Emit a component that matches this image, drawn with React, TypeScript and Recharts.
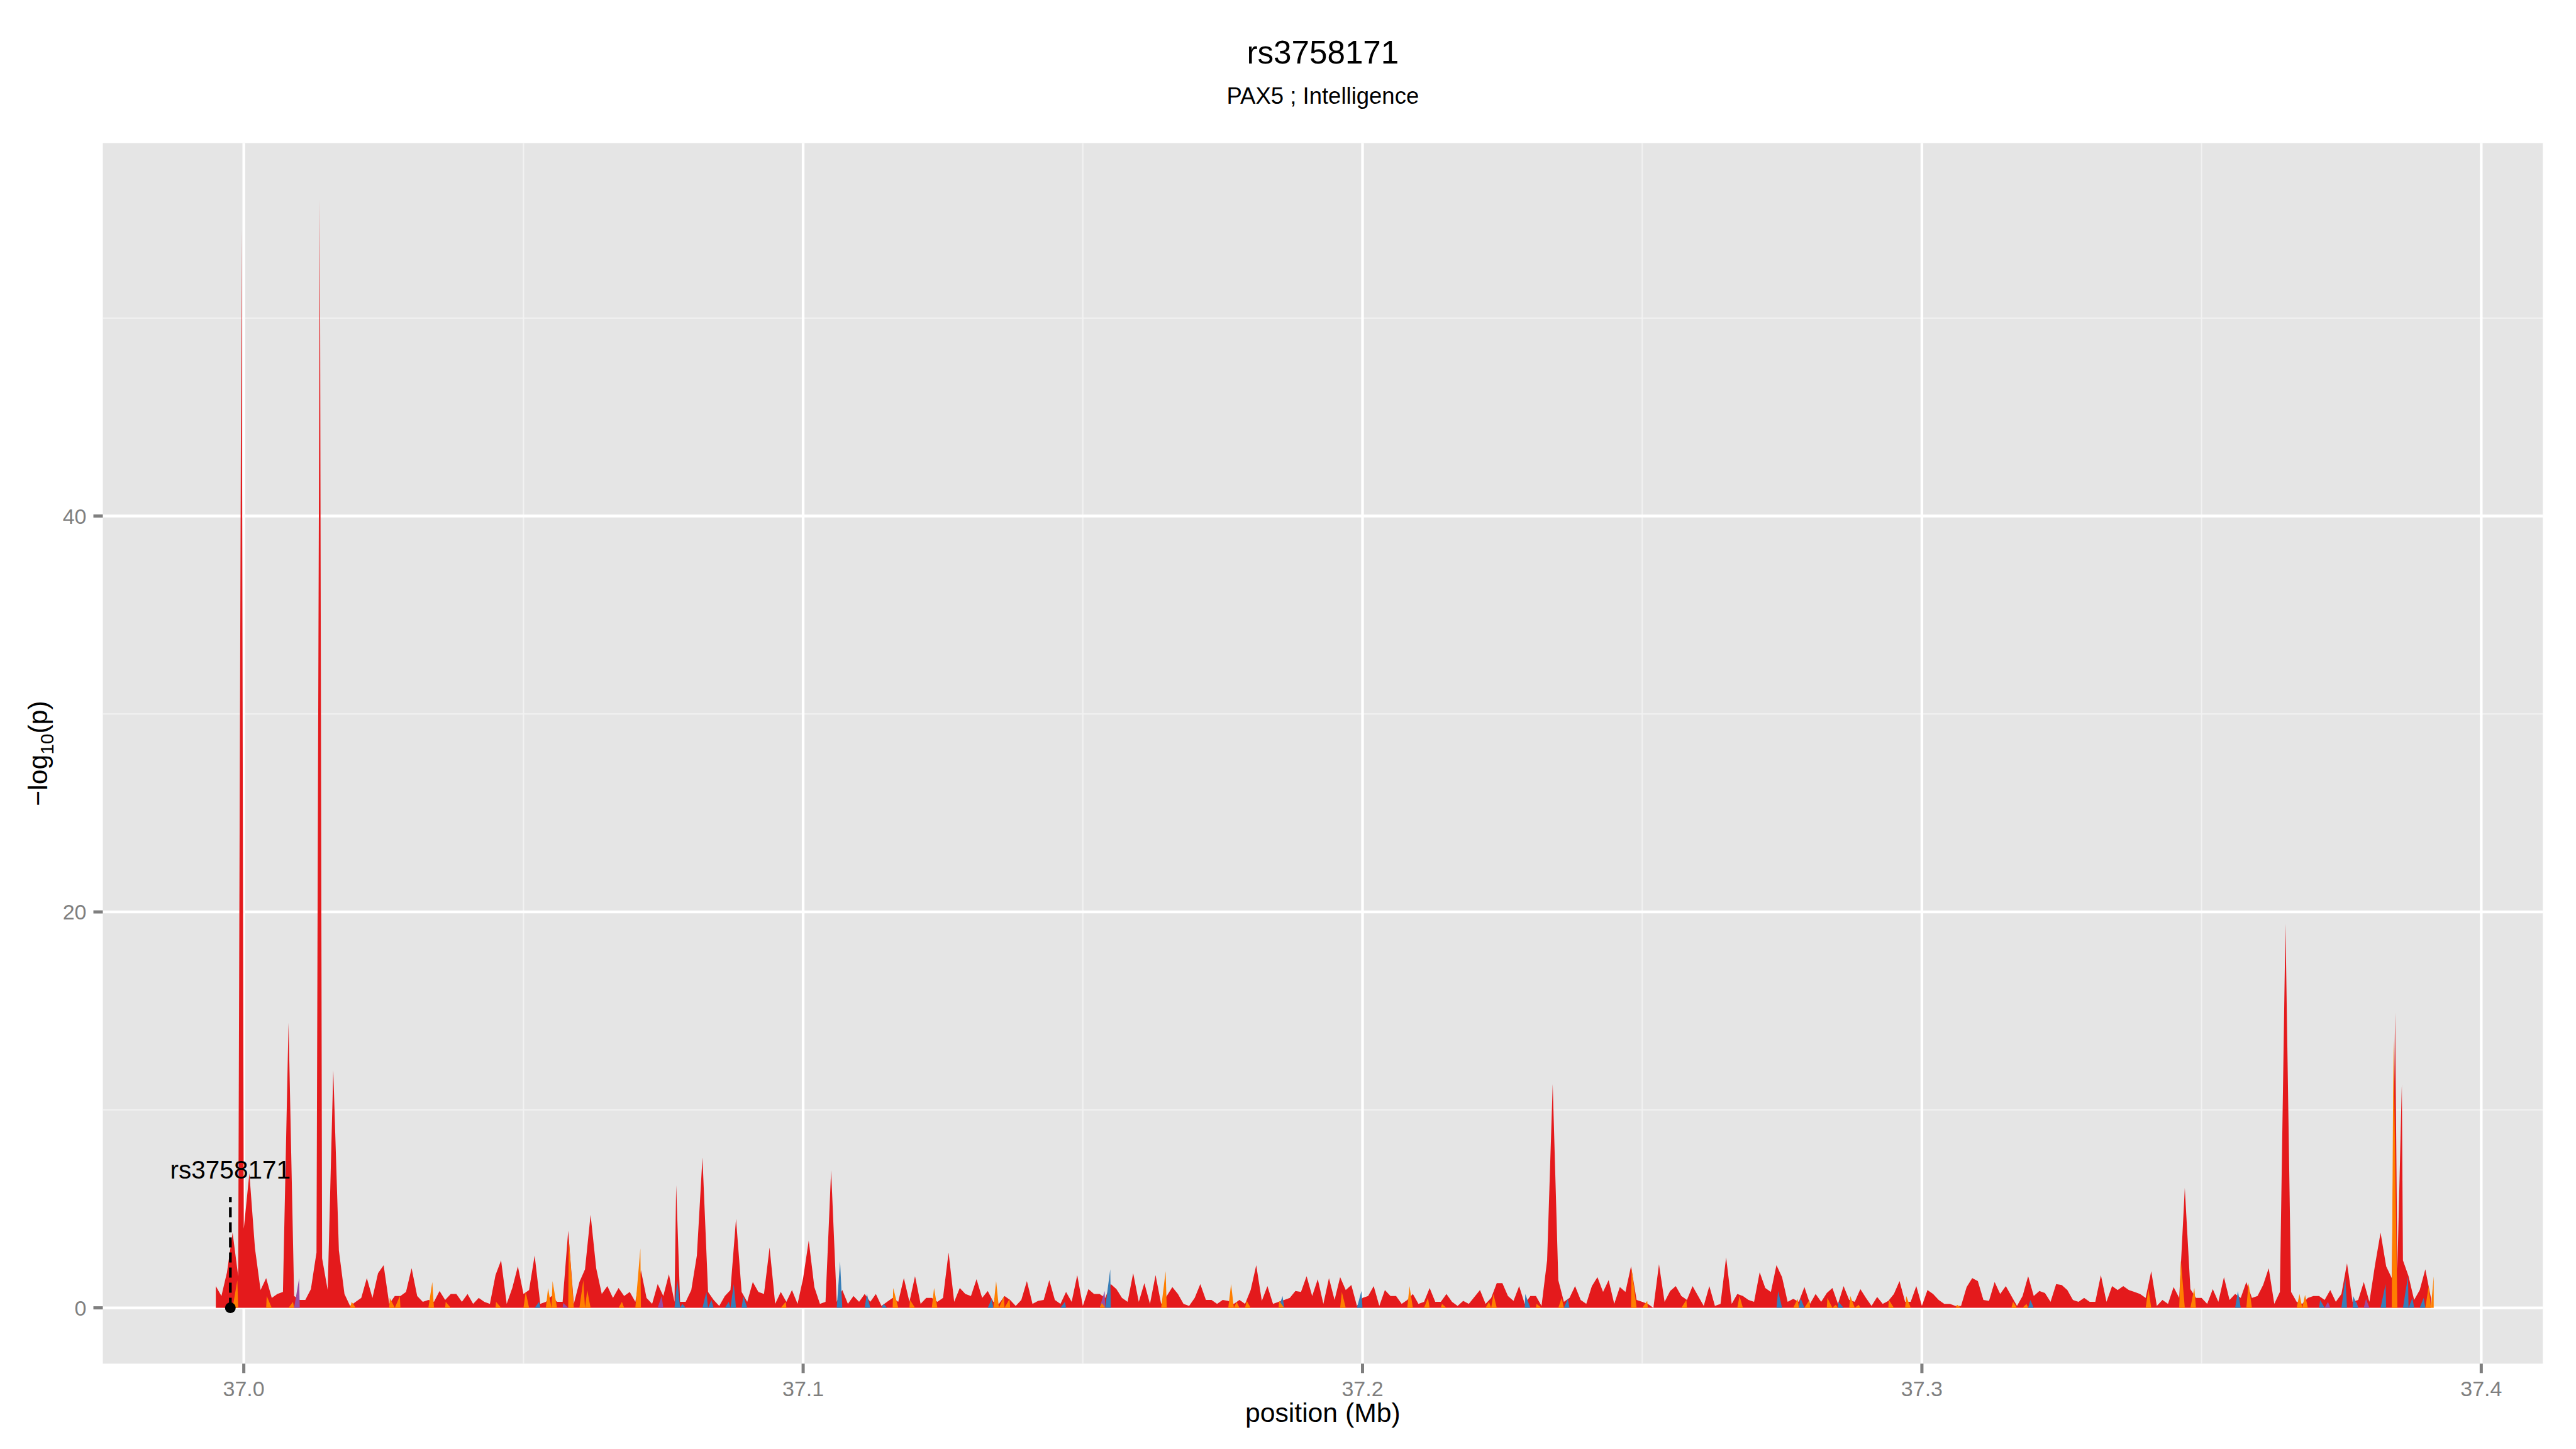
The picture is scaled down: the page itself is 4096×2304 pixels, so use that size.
import {
  AreaChart,
  Area,
  XAxis,
  YAxis,
  CartesianGrid,
  ReferenceLine,
  ReferenceDot,
} from "recharts";

const FONT = "'Liberation Sans', Arial, Helvetica, sans-serif";

// -log10(p) on a 1 kb grid starting at 36.995 Mb
const startMb = 36.995;
const stepMb = 0.001;
const redBase = [
  1.1, 0.6, 1.8, 3.8, 1.6, 4.0, 6.8, 3.0, 0.9, 1.5,
  0.5, 0.7, 0.8, 14.4, 0.6, 0.4, 0.4, 0.95, 2.8, 2.5,
  0.9, 12.0, 2.9, 0.7, 0.1, 0.3, 0.5, 1.5, 0.5, 1.75,
  2.15, 0.2, 0.6, 0.6, 0.8, 2.0, 0.6, 0.3, 0.4, 0.3,
  0.85, 0.4, 0.7, 0.7, 0.3, 0.7, 0.2, 0.5, 0.3, 0.2,
  1.65, 2.4, 0.2, 1.0, 2.1, 0.7, 0.9, 2.65, 0.2, 0.3,
  0.6, 0.3, 0.3, 3.9, 0.2, 1.3, 1.95, 4.7, 2.0, 0.7,
  1.1, 0.5, 1.0, 0.6, 0.8, 0.3, 1.9, 0.5, 0.2, 1.2,
  0.6, 1.7, 0.3, 0.3, 0.3, 0.9, 2.65, 7.6, 0.8, 0.4,
  0.1, 0.6, 0.9, 4.5, 0.8, 0.3, 1.3, 0.8, 0.7, 3.05,
  0.2, 0.8, 0.3, 0.9, 0.2, 1.5, 3.4, 1.05, 0.2, 0.3,
  6.95, 0.3, 0.9, 0.2, 0.6, 0.3, 0.7, 0.3, 0.7, 0.1,
  0.3, 0.5, 0.3, 1.5, 0.3, 1.6, 0.2, 0.5, 0.5, 0.3,
  0.5, 2.8, 0.3, 1.0, 0.7, 0.6, 1.45, 0.5, 0.85, 0.3,
  0.2, 0.6, 0.4, 0.1, 0.4, 1.35, 0.2, 0.35, 0.4, 1.4,
  0.4, 0.2, 0.8, 0.3, 1.65, 0.1, 0.95, 0.7, 0.7, 0.5,
  1.2, 0.95, 0.5, 0.3, 1.75, 0.3, 1.25, 0.2, 1.65, 0.2,
  0.6, 1.05, 0.7, 0.2, 0.1, 0.5, 1.2, 0.4, 0.4, 0.2,
  0.4, 0.35, 0.2, 0.4, 0.2, 0.9, 2.15, 0.35, 1.1, 0.2,
  0.3, 0.4, 0.5, 0.85, 0.8, 1.6, 0.6, 1.45, 0.2, 1.5,
  0.4, 1.55, 0.9, 1.15, 0.1, 0.5, 0.6, 1.1, 0.1, 0.9,
  0.6, 0.6, 0.2, 0.4, 0.7, 0.2, 0.3, 1.0, 0.3, 0.3,
  0.7, 0.3, 0.1, 0.35, 0.2, 0.55, 0.9, 0.2, 0.5, 1.25,
  1.25, 0.6, 0.35, 1.1, 0.2, 0.6, 0.6, 0.1, 2.4, 11.3,
  1.4, 0.3, 0.5, 1.1, 0.4, 0.2, 1.1, 1.55, 0.8, 1.4,
  0.2, 1.05, 0.8, 2.1, 0.4, 0.3, 0.2, 0.0, 2.2, 0.3,
  0.85, 1.1, 0.6, 0.4, 1.1, 0.6, 0.1, 1.1, 0.1, 0.2,
  2.55, 0.2, 0.7, 0.6, 0.4, 0.3, 1.8, 1.0, 0.8, 2.15,
  1.55, 0.3, 0.45, 0.3, 1.05, 0.2, 0.7, 0.3, 0.75, 1.0,
  0.2, 1.1, 0.4, 0.3, 0.95, 0.5, 0.1, 0.55, 0.2, 0.35,
  0.7, 1.35, 0.3, 0.3, 1.1, 0.1, 0.9, 0.7, 0.4, 0.2,
  0.2, 0.1, 0.1, 1.05, 1.5, 1.35, 0.4, 0.35, 1.3, 0.7,
  1.1, 0.6, 0.1, 0.6, 1.6, 0.6, 0.85, 0.75, 0.3, 1.2,
  1.15, 0.9, 0.4, 0.3, 0.5, 0.3, 0.3, 1.65, 0.3, 1.1,
  0.9, 1.1, 0.9, 0.8, 0.7, 0.5, 1.85, 0.1, 0.4, 0.2,
  1.05, 0.5, 6.05, 0.95, 0.5, 0.5, 0.2, 0.95, 0.3, 1.55,
  0.4, 0.7, 0.5, 1.3, 0.5, 0.6, 1.15, 2.0, 0.2, 0.8,
  19.4, 0.8, 0.3, 0.2, 0.5, 0.6, 0.6, 0.4, 0.9, 0.3,
  0.7, 2.25, 0.3, 0.4, 1.3, 0.3, 2.15, 3.8, 2.1, 1.5,
  1.9, 2.4, 1.6, 0.4, 0.9, 1.95, 0.5,
];

// the sharpest red peaks, at their own positions
const redPeakPos = [36.9996, 37.0136, 37.0773, 37.3846, 37.3858];
const redPeakVal = [54.5, 56.0, 6.2, 14.9, 11.3];

const orangePos = [
  36.99885, 37.0041, 37.0088, 37.0193, 37.0261, 37.0279, 37.0337, 37.0361, 37.0451, 37.0504,
  37.0544, 37.0552, 37.0581, 37.0607, 37.0614, 37.0676, 37.0709, 37.0969, 37.1161, 37.1191,
  37.1234, 37.1345, 37.1359, 37.1369, 37.1534, 37.1648, 37.1765, 37.1775, 37.1793, 37.1851,
  37.1963, 37.2084, 37.2117, 37.2142, 37.2226, 37.2234, 37.2311, 37.2356, 37.2481, 37.2509,
  37.2579, 37.2674, 37.2778, 37.2799, 37.2831, 37.2846, 37.2872, 37.2887, 37.2941, 37.2972,
  37.3063, 37.3163, 37.3187, 37.3405, 37.3463, 37.3487, 37.3584, 37.3675, 37.3685, 37.3843,
  37.3906, 37.3915,
];
const orangeVal = [
  1.4, 0.6, 0.3, 0.3, 0.5, 0.6, 1.3, 0.3, 0.3, 0.8,
  1.0, 1.35, 3.5, 1.4, 0.9, 0.3, 3.0, 0.3, 1.0, 0.4,
  1.0, 1.35, 0.6, 0.45, 0.25, 1.85, 1.2, 0.3, 0.35, 0.35,
  0.8, 1.1, 0.5, 0.2, 0.3, 0.7, 0.2, 0.5, 2.0, 0.35,
  0.4, 0.6, 0.45, 0.4, 0.5, 0.15, 0.6, 0.15, 0.4, 0.6,
  0.15, 0.3, 0.2, 0.95, 2.4, 1.0, 1.25, 0.7, 0.65, 13.5,
  1.1, 1.6,
];

const bluePos = [
  37.0528, 37.0775, 37.0784, 37.0827, 37.0836, 37.0867, 37.0876, 37.0893, 37.1066, 37.1114,
  37.1144, 37.1337, 37.1468, 37.1549, 37.1857, 37.1998, 37.2291, 37.2367, 37.2743, 37.2783,
  37.2851, 37.3194, 37.3565, 37.3712, 37.3757, 37.3771, 37.3829, 37.3869, 37.3877, 37.3897,
];
const blueVal = [
  0.3, 1.4, 0.2, 0.8, 0.4, 0.3, 1.2, 0.6, 2.35, 0.7,
  0.2, 0.45, 0.3, 1.95, 0.6, 0.85, 0.7, 0.45, 0.85, 0.5,
  0.3, 0.4, 0.85, 0.4, 1.5, 0.6, 1.2, 1.6, 0.5, 0.5,
];

const purplePos = [37.0099, 37.0571, 37.0747, 37.1539, 37.3726, 37.3777, 37.3794];
const purpleVal = [1.5, 0.25, 0.6, 0.85, 0.3, 0.3, 0.45];

const xTicks = [37.0, 37.1, 37.2, 37.3, 37.4];
const xMinor = [37.05, 37.15, 37.25, 37.35];
const yTicks = [0, 20, 40];
const yMinor = [10, 30, 50];

const leadSnp = "rs3758171";
const leadPos = 36.9976;
const leadLineTop = 5.6;
const leadLabelY = 7.0;

type Row = {
  pos: number;
  red: number | null;
  orange: number | null;
  blue: number | null;
  purple: number | null;
};

function buildRows(): Row[] {
  const rows: Row[] = redBase.map((v, i) => ({
    pos: +(startMb + i * stepMb).toFixed(4),
    red: v,
    orange: 0,
    blue: 0,
    purple: 0,
  }));
  const empty = { red: null, orange: null, blue: null, purple: null };
  redPeakPos.forEach((p, i) => rows.push({ ...empty, pos: p, red: redPeakVal[i] }));
  orangePos.forEach((p, i) => rows.push({ ...empty, pos: p, orange: orangeVal[i] }));
  bluePos.forEach((p, i) => rows.push({ ...empty, pos: p, blue: blueVal[i] }));
  purplePos.forEach((p, i) => rows.push({ ...empty, pos: p, purple: purpleVal[i] }));
  return rows.sort((a, b) => a.pos - b.pos);
}

const data = buildRows();

const tickStyle = { fill: "#7f7f7f", fontSize: 34, fontFamily: FONT };
const tickLineStyle = { stroke: "#7f7f7f", strokeWidth: 5 };

const series = [
  { key: "red", color: "#E41A1C" },
  { key: "purple", color: "#984EA3" },
  { key: "blue", color: "#377EB8" },
  { key: "orange", color: "#FF7F00" },
];

export default function App() {
  const cx = (163.5 + 4043.2) / 2;
  return (
    <div style={{ position: "absolute", left: 0, top: 0, width: 4096, height: 2304, background: "#fff" }}>
      <AreaChart
        width={4096}
        height={2304}
        data={data}
        margin={{ top: 227.5, right: 52.8, bottom: 0, left: 0 }}
      >
        <CartesianGrid
          fill="#E5E5E5"
          stroke="#F2F2F2"
          strokeWidth={2.1}
          horizontalValues={yMinor}
          verticalValues={xMinor}
        />
        <CartesianGrid
          stroke="#FFFFFF"
          strokeWidth={4.3}
          horizontalValues={yTicks}
          verticalValues={xTicks}
        />
        <XAxis
          dataKey="pos"
          type="number"
          domain={[36.9748, 37.411]}
          allowDataOverflow
          ticks={xTicks}
          interval={0}
          tickFormatter={(v: number) => v.toFixed(1)}
          height={135.7}
          axisLine={false}
          tickLine={tickLineStyle}
          tickSize={15}
          tickMargin={13}
          tick={tickStyle}
        />
        <YAxis
          type="number"
          domain={[-2.82, 58.84]}
          allowDataOverflow
          ticks={yTicks}
          interval={0}
          width={163.5}
          axisLine={false}
          tickLine={tickLineStyle}
          tickSize={15}
          tickMargin={11}
          tick={tickStyle}
        />
        {series.map((s) => (
          <Area
            key={s.key}
            type="linear"
            dataKey={s.key}
            stroke="none"
            fill={s.color}
            fillOpacity={1}
            baseValue={0}
            connectNulls
            dot={false}
            activeDot={false}
            isAnimationActive={false}
          />
        ))}
        <ReferenceLine
          segment={[
            { x: leadPos, y: 0 },
            { x: leadPos, y: leadLineTop },
          ]}
          stroke="#000"
          strokeWidth={4.3}
          strokeDasharray="16 8"
        />
        <ReferenceDot x={leadPos} y={0} r={8.5} fill="#000" stroke="none" />
        <ReferenceDot
          x={leadPos}
          y={leadLabelY}
          r={0}
          shape={(p: any) => (
            <text
              x={p.cx}
              y={p.cy}
              dy="0.36em"
              textAnchor="middle"
              fontSize={40.5}
              fontFamily={FONT}
              fill="#000"
            >
              {leadSnp}
            </text>
          )}
        />
      </AreaChart>
      <svg
        width={4096}
        height={2304}
        style={{ position: "absolute", left: 0, top: 0, pointerEvents: "none" }}
      >
        <text x={cx} y={100.7} textAnchor="middle" fontSize={51.2} fontFamily={FONT} fill="#000">
          rs3758171
        </text>
        <text x={cx} y={164.6} textAnchor="middle" fontSize={36.5} fontFamily={FONT} fill="#000">
          PAX5 ; Intelligence
        </text>
        <text x={cx} y={2261} textAnchor="middle" fontSize={42.7} fontFamily={FONT} fill="#000">
          position (Mb)
        </text>
        <text
          transform="translate(75 1198) rotate(-90)"
          textAnchor="middle"
          fontSize={42.7}
          fontFamily={FONT}
          fill="#000"
        >
          −log
          <tspan dy={10} fontSize={30}>
            10
          </tspan>
          <tspan dy={-10}>(p)</tspan>
        </text>
      </svg>
    </div>
  );
}
